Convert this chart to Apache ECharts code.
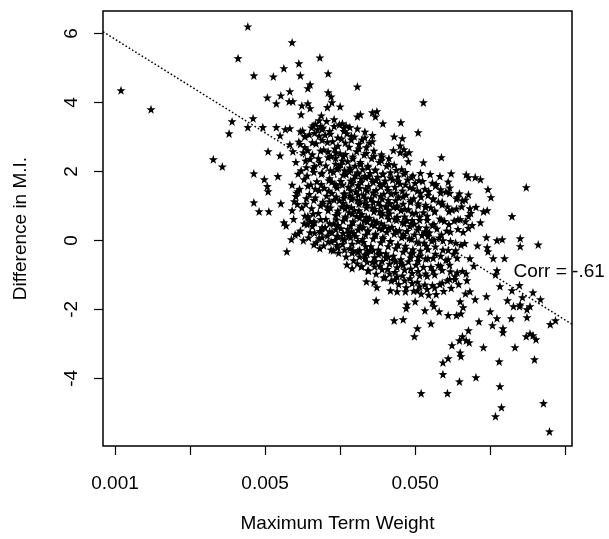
<!DOCTYPE html>
<html>
<head>
<meta charset="utf-8">
<script src="https://cdn.jsdelivr.net/npm/echarts@6/dist/echarts.min.js"></script>
<style>
html,body{margin:0;padding:0;background:#fff;}
#chart{width:609px;height:539px;}
</style>
</head>
<body>
<div id="chart"></div>
<script>
// x is in axis position units (one unit per tick mark), y is the difference in M.I.
const xTicks = [0, 1, 2, 3, 4, 5, 6];
const xLabelPositions = [0, 2, 4];
const xLabelTexts = ['0.001', '0.005', '0.050'];
const yTicks = [-4, -2, 0, 2, 4, 6];
const xRange = [-0.16, 6.09];
const yRange = [-5.96, 6.65];
const fitLine = [[-0.16, 6.05], [6.09, -2.43]];
const corrText = 'Corr = -.61';
const corrAt = [5.31, -0.9];

const outlierPoints = [
[0.08,4.35],[0.48,3.80],
[1.77,6.20],[2.36,5.74],[1.64,5.28],[2.73,5.30],[2.25,4.99],[2.45,5.13],[1.85,4.78],[2.11,4.75],[2.47,4.78],[2.84,4.84],
[2.60,4.52],[2.57,4.41],[3.23,4.46],[2.03,4.14],[2.21,4.20],[2.33,4.32],[2.15,3.97],[2.32,4.03],[2.37,4.03],[2.84,4.29],
[2.88,4.17],[2.49,3.91],[2.57,3.97],[2.60,3.83],[2.48,3.65],[2.89,4.00],[2.83,3.86],[3.00,3.88],[2.75,3.62],[2.72,3.48],
[1.84,3.54],[1.56,3.45],[1.52,3.10],[1.77,3.28],[1.97,3.28],[2.15,3.28],[2.27,3.22],[2.33,3.25],[2.64,3.33],[2.76,3.22],
[2.92,3.51],[3.03,3.39],[3.08,3.33],[3.23,3.59],[3.27,3.65],[3.43,3.71],[3.49,3.74],[3.47,3.59],[2.04,2.58],[2.20,2.46],
[2.33,2.78],[1.31,2.35],[2.47,3.16],[2.53,3.01],[2.20,3.04],
[4.11,4.00],[3.57,3.39],[3.81,3.42],[4.04,3.13],[3.72,3.01],[3.83,2.96],[3.80,2.75],[3.71,2.61],[3.85,2.64],[3.92,2.55],
[3.80,2.55],[3.87,2.49],[4.35,2.41],[3.91,2.29],[4.11,2.26],[3.56,2.43],
[1.43,2.14],[1.85,1.94],[1.99,1.77],[2.03,1.57],[2.04,1.42],[2.17,1.86],[1.85,1.10],[1.92,0.84],[2.05,0.84],[2.21,1.07],
[2.25,0.52],[2.28,0.43],[2.36,0.87],[2.39,1.13],[2.41,1.28],[2.44,1.42],[2.29,-0.32],[2.35,0.03],[2.40,0.17],[2.44,0.20],
[2.51,0.00],[2.52,0.49],[2.60,0.55],[2.57,0.70],[2.65,0.55],[2.60,0.23],[2.65,-0.12],[2.73,-0.23],[2.72,0.06],[2.75,0.26],
[2.80,0.38],[2.88,-0.03],[2.91,-0.29],[2.97,-0.20],[2.89,0.23],[2.97,0.12],[3.03,0.06],[3.11,0.12],[3.15,0.26],[3.09,-0.70],
[3.16,-0.81],[3.23,-0.67],[3.29,-0.75],[3.37,-0.87],[3.17,-0.29],[3.24,-0.32],[3.33,-0.41],[3.36,-0.29],[3.35,-1.19],[3.45,-1.22],
[3.49,-1.36],[3.48,-1.74],[3.47,-0.61],[3.31,0.38],
[4.48,1.94],[4.68,1.91],[4.71,1.83],[4.80,1.83],[4.87,1.77],[4.97,1.48],[5.01,1.25],[5.48,1.54],[4.71,1.33],[4.56,1.25],
[4.63,1.16],[4.73,0.93],[4.91,0.84],[4.96,0.87],[5.29,0.70],[4.71,0.70],[4.67,0.55],[4.60,0.61],[4.87,0.52],[4.95,0.09],
[5.09,0.00],[5.16,0.03],[5.40,0.06],[5.40,-0.17],[5.64,-0.12],[4.96,-0.20],[4.97,-0.32],[5.04,-0.52],[5.19,-0.52],[5.09,-0.87],
[5.07,-0.99],[5.39,-1.30],[5.13,-1.33],[5.29,-1.45],[5.57,-1.51],[5.43,-1.65],[5.67,-1.71],[5.23,-1.74],[5.31,-1.91],[5.40,-1.86],
[4.69,-1.16],[4.73,-1.48],[4.67,-1.54],[4.95,-1.62],[4.80,-1.71],[4.60,-1.77],[4.47,-0.90],[4.53,-1.13],[4.23,-1.80],[4.00,-1.77],
[3.89,-1.86],[3.67,-1.45],[3.76,-1.48],[3.87,-1.48],[4.03,-1.45],[3.73,-1.13],[3.60,-1.07],
[3.72,-2.32],[3.84,-2.29],[4.03,-2.55],[3.99,-2.78],[4.21,-2.41],[4.13,-2.03],[3.88,-1.97],[4.25,-1.91],[4.32,-2.06],[4.44,-2.17],
[4.55,-2.17],[4.61,-2.12],[4.64,-1.94],[4.71,-2.61],[4.63,-2.78],[4.68,-2.90],[4.72,-2.96],[4.59,-2.90],[4.49,-3.04],[4.60,-3.25],
[4.61,-3.36],[4.44,-3.42],[4.37,-3.54],[4.37,-3.88],[4.59,-4.09],[4.81,-3.97],[4.08,-4.43],[4.43,-4.43],[4.85,-2.35],[4.91,-3.10],
[5.00,-2.06],[5.03,-2.46],[5.09,-2.26],[5.17,-2.55],[5.17,-2.67],[5.28,-2.26],[5.12,-3.51],[5.33,-3.10],[5.13,-4.23],[5.15,-4.84],
[5.07,-5.10],[5.39,-1.91],[5.49,-2.00],[5.53,-1.91],[5.49,-2.23],[5.48,-2.78],[5.53,-2.70],[5.57,-2.75],[5.61,-2.87],[5.59,-3.45],
[5.71,-4.72],[5.79,-5.54],[5.80,-2.43],[5.87,-2.32]
];

const corePoints = [
[2.38,0.62],[2.43,1.05],[2.36,1.61],[2.44,1.93],[2.41,2.27],[2.37,2.58],[2.45,2.86],[2.42,1.38],
[2.47,0.28],[2.53,0.71],[2.49,0.95],[2.55,1.22],[2.46,1.49],[2.52,1.77],[2.48,2.03],[2.54,2.31],[2.51,2.55],[2.47,2.79],[2.53,3.02],[2.50,3.18],
[2.58,0.08],[2.63,0.41],[2.57,0.66],[2.62,0.93],[2.65,1.17],[2.59,1.34],[2.61,1.62],[2.56,1.88],[2.64,2.09],[2.60,2.36],[2.57,2.61],[2.63,2.84],[2.59,3.07],[2.62,3.27],
[2.68,-0.06],[2.73,0.27],[2.66,0.52],[2.71,0.79],[2.74,1.01],[2.67,1.24],[2.72,1.45],[2.69,1.71],[2.75,1.93],[2.66,2.15],[2.71,2.38],[2.74,2.60],[2.68,2.81],[2.72,3.03],[2.70,3.22],[2.67,3.38],
[2.78,-0.15],[2.83,0.14],[2.76,0.38],[2.81,0.62],[2.84,0.87],[2.77,1.06],[2.82,1.29],[2.79,1.52],[2.85,1.74],[2.76,1.96],[2.81,2.17],[2.84,2.41],[2.78,2.63],[2.83,2.85],[2.80,3.06],[2.77,3.27],[2.82,3.46],[2.86,1.13],
[2.88,-0.27],[2.93,0.01],[2.86,0.26],[2.91,0.48],[2.94,0.73],[2.87,0.95],[2.92,1.18],[2.89,1.37],[2.95,1.59],[2.86,1.80],[2.91,1.99],[2.94,2.22],[2.88,2.44],[2.93,2.66],[2.90,2.87],[2.87,3.09],[2.92,3.31],[2.95,0.60],[2.89,1.70],[2.94,2.55],
[2.98,-0.36],[3.03,-0.11],[2.96,0.13],[3.01,0.35],[3.04,0.57],[2.97,0.78],[3.02,0.98],[2.99,1.16],[3.05,1.35],[2.96,1.53],[3.01,1.72],[3.04,1.90],[2.98,2.10],[3.03,2.31],[3.00,2.52],[2.97,2.74],[3.02,2.95],[3.05,3.17],[2.99,3.36],[3.04,1.08],[2.97,0.44],[3.01,2.20],
[3.08,-0.47],[3.13,-0.23],[3.06,0.02],[3.11,0.22],[3.14,0.43],[3.07,0.64],[3.12,0.81],[3.09,1.00],[3.15,1.19],[3.06,1.36],[3.11,1.55],[3.14,1.73],[3.08,1.92],[3.13,2.11],[3.10,2.29],[3.07,2.50],[3.12,2.71],[3.15,2.92],[3.09,3.10],[3.13,3.28],[3.07,0.93],[3.14,1.45],[3.10,0.33],[3.12,2.00],
[3.18,-0.58],[3.23,-0.33],[3.16,-0.10],[3.21,0.12],[3.24,0.31],[3.17,0.52],[3.22,0.70],[3.19,0.88],[3.25,1.06],[3.16,1.24],[3.21,1.41],[3.24,1.60],[3.18,1.78],[3.23,1.97],[3.20,2.16],[3.17,2.37],[3.22,2.58],[3.25,2.79],[3.19,3.01],[3.23,3.24],[3.16,0.77],[3.24,1.33],[3.20,1.88],[3.18,0.21],
[3.28,-0.76],[3.33,-0.52],[3.26,-0.28],[3.31,-0.05],[3.34,0.16],[3.27,0.37],[3.32,0.57],[3.29,0.76],[3.35,0.95],[3.26,1.13],[3.31,1.31],[3.34,1.50],[3.28,1.69],[3.33,1.87],[3.30,2.06],[3.27,2.27],[3.32,2.48],[3.35,2.70],[3.29,2.92],[3.33,3.15],[3.26,0.66],[3.34,1.21],[3.30,0.04],[3.28,1.79],
[3.38,-0.88],[3.43,-0.63],[3.36,-0.39],[3.41,-0.17],[3.44,0.05],[3.37,0.26],[3.42,0.46],[3.39,0.65],[3.45,0.84],[3.36,1.02],[3.41,1.21],[3.44,1.39],[3.38,1.57],[3.43,1.76],[3.40,1.95],[3.37,2.16],[3.42,2.38],[3.45,2.60],[3.39,2.83],[3.43,3.05],[3.36,0.55],[3.44,1.11],[3.41,-0.29],[3.38,1.86],
[3.48,-0.97],[3.53,-0.73],[3.46,-0.49],[3.51,-0.27],[3.54,-0.06],[3.47,0.15],[3.52,0.35],[3.49,0.54],[3.55,0.73],[3.46,0.91],[3.51,1.10],[3.54,1.28],[3.48,1.46],[3.53,1.65],[3.50,1.84],[3.47,2.05],[3.52,2.27],[3.55,2.49],[3.46,0.44],[3.54,1.00],[3.51,-0.40],[3.48,1.75],
[3.58,-1.08],[3.63,-0.83],[3.56,-0.60],[3.61,-0.38],[3.64,-0.17],[3.57,0.04],[3.62,0.24],[3.59,0.43],[3.65,0.62],[3.56,0.80],[3.61,0.99],[3.64,1.17],[3.58,1.35],[3.63,1.54],[3.60,1.73],[3.57,1.94],[3.62,2.16],[3.65,2.38],[3.56,0.33],[3.64,0.89],[3.61,-0.50],[3.58,1.64],
[3.68,-1.17],[3.73,-0.92],[3.66,-0.68],[3.71,-0.45],[3.74,-0.23],[3.67,-0.02],[3.72,0.19],[3.69,0.39],[3.75,0.59],[3.66,0.78],[3.71,0.97],[3.74,1.16],[3.68,1.35],[3.73,1.55],[3.70,1.76],[3.67,1.97],[3.72,2.19],[3.74,0.28],[3.66,1.06],[3.71,-0.57],
[3.78,-1.27],[3.83,-1.02],[3.76,-0.78],[3.81,-0.55],[3.84,-0.33],[3.77,-0.12],[3.82,0.09],[3.79,0.29],[3.85,0.49],[3.76,0.68],[3.81,0.87],[3.84,1.06],[3.78,1.25],[3.83,1.44],[3.80,1.64],[3.77,1.85],[3.82,2.06],[3.84,0.18],[3.76,0.96],[3.81,-0.67],
[3.88,-1.36],[3.93,-1.10],[3.86,-0.85],[3.91,-0.61],[3.94,-0.38],[3.87,-0.16],[3.92,0.06],[3.89,0.27],[3.95,0.48],[3.86,0.69],[3.91,0.90],[3.94,1.11],[3.88,1.32],[3.93,1.54],[3.90,1.76],[3.87,1.98],[3.89,0.58],[3.94,-0.50],
[3.98,-1.46],[4.03,-1.20],[3.96,-0.95],[4.01,-0.71],[4.04,-0.48],[3.97,-0.26],[4.02,-0.04],[3.99,0.17],[4.05,0.38],[3.96,0.59],[4.01,0.80],[4.04,1.01],[3.98,1.22],[4.03,1.44],[4.00,1.66],[3.97,1.88],[3.99,0.48],[4.04,-0.60],
[4.08,-1.55],[4.13,-1.28],[4.06,-1.02],[4.11,-0.77],[4.14,-0.53],[4.07,-0.30],[4.12,-0.07],[4.09,0.15],[4.15,0.37],[4.06,0.59],[4.11,0.81],[4.14,1.03],[4.08,1.26],[4.13,1.49],[4.10,1.72],[4.07,1.95],[4.14,0.26],
[4.18,-1.58],[4.23,-1.30],[4.16,-1.03],[4.21,-0.77],[4.24,-0.51],[4.17,-0.26],[4.22,-0.01],[4.19,0.23],[4.25,0.47],[4.16,0.71],[4.21,0.95],[4.24,1.19],[4.18,1.43],[4.23,1.67],[4.20,1.92],[4.17,0.12],
[4.28,-1.56],[4.33,-1.27],[4.26,-0.99],[4.31,-0.72],[4.34,-0.45],[4.27,-0.18],[4.32,0.08],[4.29,0.34],[4.35,0.60],[4.26,0.86],[4.31,1.12],[4.34,1.38],[4.28,1.63],[4.33,1.86],
[4.38,-1.47],[4.43,-1.16],[4.36,-0.86],[4.41,-0.57],[4.44,-0.28],[4.37,0.00],[4.42,0.28],[4.39,0.56],[4.45,0.84],[4.36,1.12],[4.41,1.41],[4.44,1.70],
[4.48,-1.38],[4.53,-1.04],[4.46,-0.71],[4.51,-0.39],[4.54,-0.07],[4.47,0.25],[4.52,0.57],[4.49,0.89],[4.55,1.21],[4.46,1.53],
[4.58,-1.27],[4.63,-0.89],[4.56,-0.51],[4.61,-0.13],[4.64,0.24],[4.57,0.61],[4.62,0.98],[4.59,1.36],
[4.68,-0.96],[4.73,-0.52],[4.66,-0.08],[4.71,0.36],[4.74,0.79],[4.67,1.18],
[4.78,-0.74],[4.83,-0.15],[4.76,0.44],[4.81,0.97]
];

const coreExtraPoints = [
[2.56,0.47],[2.54,1.06],[2.57,1.58],[2.55,2.12],[2.53,2.70],
[2.66,0.22],[2.64,0.77],[2.67,1.49],[2.65,1.98],[2.63,2.49],[2.66,3.11],
[2.76,0.09],[2.74,0.61],[2.77,1.12],[2.75,1.63],[2.73,2.26],[2.76,2.91],[2.74,3.31],
[2.84,-0.04],[2.86,0.49],[2.83,0.98],[2.85,1.44],[2.87,2.03],[2.84,2.58],[2.86,3.17],
[2.96,-0.14],[2.94,0.32],[2.97,0.86],[2.95,1.27],[2.93,1.63],[2.96,2.07],[2.94,2.39],[2.97,2.98],
[3.06,-0.27],[3.04,0.21],[3.07,0.69],[3.05,1.23],[3.03,1.61],[3.06,2.03],[3.04,2.44],[3.07,2.83],[3.05,3.26],
[3.16,-0.36],[3.14,0.09],[3.17,0.55],[3.15,0.96],[3.13,1.30],[3.16,1.66],[3.14,2.05],[3.17,2.43],[3.15,3.03],
[3.26,-0.47],[3.24,-0.02],[3.27,0.43],[3.25,0.87],[3.23,1.17],[3.26,1.52],[3.24,1.93],[3.27,2.21],[3.25,2.66],
[3.36,-0.62],[3.34,-0.17],[3.37,0.29],[3.35,0.68],[3.33,1.07],[3.36,1.44],[3.34,1.82],[3.37,2.12],[3.35,2.53],[3.33,2.98],
[3.46,-0.76],[3.44,-0.28],[3.47,0.19],[3.45,0.58],[3.43,0.95],[3.46,1.33],[3.44,1.69],[3.47,2.03],[3.45,2.44],[3.43,2.87],
[3.56,-0.84],[3.54,-0.37],[3.57,0.09],[3.55,0.49],[3.53,0.84],[3.56,1.21],[3.54,1.57],[3.57,1.92],[3.55,2.32],
[3.66,-0.96],[3.64,-0.48],[3.67,-0.03],[3.65,0.36],[3.63,0.72],[3.66,1.08],[3.64,1.46],[3.67,1.82],[3.65,2.21],
[3.76,-1.05],[3.74,-0.61],[3.77,-0.13],[3.75,0.25],[3.73,0.63],[3.76,1.01],[3.74,1.38],[3.77,1.71],[3.75,2.04],
[3.86,-1.16],[3.84,-0.71],[3.87,-0.24],[3.85,0.13],[3.83,0.53],[3.86,0.91],[3.84,1.27],[3.87,1.62],[3.85,1.93],
[3.96,-1.24],[3.94,-0.82],[3.97,-0.36],[3.95,0.04],[3.93,0.41],[3.96,0.79],[3.94,1.16],[3.97,1.51],[3.95,1.83],
[4.06,-1.33],[4.04,-0.89],[4.07,-0.44],[4.05,-0.07],[4.03,0.31],[4.06,0.68],[4.04,1.07],[4.07,1.38],[4.05,1.74],
[4.16,-1.41],[4.14,-0.96],[4.17,-0.52],[4.15,-0.16],[4.13,0.22],[4.16,0.59],[4.14,0.97],[4.17,1.31],
[4.26,-1.37],[4.24,-0.88],[4.27,-0.39],[4.25,0.02],[4.23,0.44],[4.26,0.83],[4.24,1.22],[4.27,1.58],
[4.36,-1.23],[4.34,-0.74],[4.37,-0.27],[4.35,0.17],[4.33,0.63],[4.36,1.04],[4.34,1.48],
[4.46,-1.12],[4.44,-0.55],[4.47,-0.02],[4.45,0.47],[4.43,0.98],[4.46,1.37],
[4.56,-0.93],[4.54,-0.29],[4.57,0.33],[4.55,0.92]
];

const FONT = '"Liberation Sans", Arial, Helvetica, sans-serif';
const STAR = 'path://M0,-10L2.35,-3.24L9.51,-3.09L3.8,1.24L5.88,8.09L0,4L-5.88,8.09L-3.8,1.24L-9.51,-3.09L-2.35,-3.24Z';

const chart = echarts.init(document.getElementById('chart'), null, {renderer: 'canvas'});
const option = {
  animation: false,
  backgroundColor: '#fff',
  grid: {left: 103, right: 37, top: 11, bottom: 93, show: true, borderColor: '#000', borderWidth: 1.5, backgroundColor: 'transparent'},
  xAxis: {
    type: 'value', min: xRange[0], max: xRange[1],
    name: 'Maximum Term Weight', nameLocation: 'middle', nameGap: 68,
    nameTextStyle: {color: '#000', fontSize: 19, fontFamily: FONT},
    axisLine: {show: false, onZero: false},
    axisTick: {show: true, inside: false, length: 9, lineStyle: {color: '#000', width: 1.2}, customValues: xTicks},
    axisLabel: {
      show: true, margin: 28, color: '#000', fontSize: 19, fontFamily: FONT,
      customValues: xLabelPositions,
      formatter: function (v) { const i = xLabelPositions.indexOf(Math.round(v)); return i >= 0 ? xLabelTexts[i] : ''; }
    },
    splitLine: {show: false}
  },
  yAxis: {
    type: 'value', min: yRange[0], max: yRange[1],
    name: 'Difference in M.I.', nameLocation: 'middle', nameGap: 73,
    nameTextStyle: {color: '#000', fontSize: 19, fontFamily: FONT},
    axisLine: {show: false, onZero: false},
    axisTick: {show: true, inside: false, length: 9, lineStyle: {color: '#000', width: 1.2}, customValues: yTicks},
    axisLabel: {show: true, margin: 22, rotate: 90, color: '#000', fontSize: 19, fontFamily: FONT, customValues: yTicks},
    splitLine: {show: false}
  },
  series: [
    {
      type: 'scatter', data: outlierPoints.concat(corePoints, coreExtraPoints),
      symbol: STAR, symbolSize: 9,
      itemStyle: {color: '#000', opacity: 1},
      silent: true
    },
    {
      type: 'line', data: fitLine, symbol: 'none', silent: true,
      lineStyle: {color: '#000', width: 1.5, type: [1.6, 2.2]}
    }
  ]
};
chart.setOption(option);
const p = chart.convertToPixel({gridIndex: 0}, corrAt);
chart.setOption({
  graphic: [{
    type: 'text', x: p[0], y: p[1], z: 100,
    style: {text: corrText, fill: '#000', font: '19px ' + FONT, align: 'left', verticalAlign: 'middle'}
  }]
});
</script>
</body>
</html>
